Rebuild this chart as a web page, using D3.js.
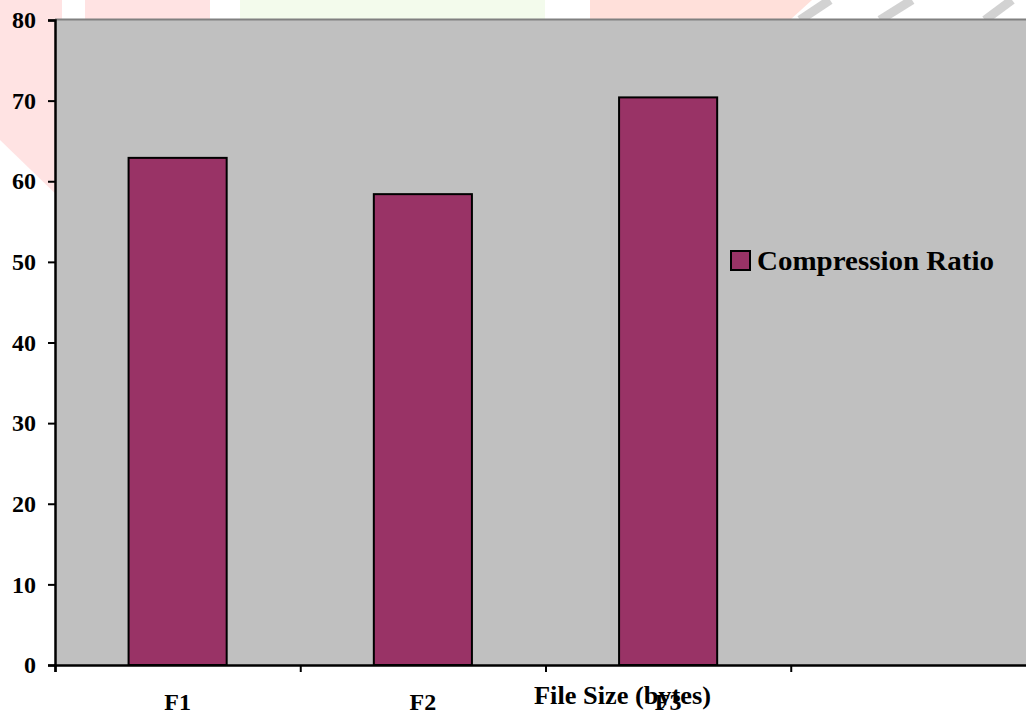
<html>
  <head>
    <title>Compression Ratio</title>
    <script src="https://d3js.org/d3.v7.min.js"></script>
    <style>
      body { margin: 0; background: #fff; }
      .chart text { font-family: "Liberation Serif", "Times New Roman", serif; font-weight: bold; fill: #000; }
    </style>
  </head>
  <body>
    <div class="chart"></div>

  <script>
  // data
  var categories = ["F1", "F2", "F3", ""];
  var ratios = [62.9, 58.4, 70.4];
  var yTicks = [0, 10, 20, 30, 40, 50, 60, 70, 80];
  var seriesName = "Compression Ratio";
  var xTitle = "File Size (bytes)";

  var width = 1026,
      height = 715;

  // plot box (the right edge runs past the window)
  var plotLeft = 55, plotTop = 20, plotBottom = 665, plotRight = 1036;

  var svg = d3.select(".chart")
    .append("svg")
    .attr("width", width)
    .attr("height", height);

  // faint watermark behind the chart
  var wm = svg.append("g");
  wm.append("path").attr("d", "M0,0 L62,0 L62,200 L0,140 Z").attr("fill", "#ffe3e3");
  wm.append("rect").attr("x", 85).attr("y", 0).attr("width", 125).attr("height", 20).attr("fill", "#ffe3e3");
  wm.append("rect").attr("x", 240).attr("y", 0).attr("width", 305).attr("height", 20).attr("fill", "#f3fbec");
  wm.append("path").attr("d", "M590,0 L812,0 L790,20 L590,20 Z").attr("fill", "#ffe0da");
  [[800, 830], [880, 912], [985, 1012]].forEach(function (p) {
    wm.append("line").attr("x1", p[0]).attr("y1", 20).attr("x2", p[1]).attr("y2", 0)
      .attr("stroke", "#d2d2d2").attr("stroke-width", 9);
  });

  var y = d3.scaleLinear()
    .domain([0, 80])
    .range([plotBottom, plotTop]);

  var x = d3.scaleBand()
    .domain(categories)
    .range([plotLeft, plotRight])
    .paddingInner(0.6)
    .paddingOuter(0.3);

  var xEdges = d3.scaleLinear()
    .domain([0, categories.length])
    .range([plotLeft, plotRight]);

  // plot area
  svg.append("rect")
    .attr("x", plotLeft)
    .attr("y", plotTop)
    .attr("width", plotRight - plotLeft)
    .attr("height", plotBottom - plotTop)
    .attr("fill", "#c0c0c0");

  svg.append("line")
    .attr("x1", plotLeft).attr("x2", width)
    .attr("y1", plotTop - 0.5).attr("y2", plotTop - 0.5)
    .attr("stroke", "#808080")
    .attr("stroke-width", 2);

  // bars
  svg.selectAll(".bar")
    .data(ratios)
    .enter()
    .append("rect")
    .attr("class", "bar")
    .attr("x", function (d, i) { return x(categories[i]); })
    .attr("y", function (d) { return y(d); })
    .attr("width", x.bandwidth())
    .attr("height", function (d) { return y(0) - y(d); })
    .attr("fill", "#993366")
    .attr("stroke", "#000")
    .attr("stroke-width", 2);

  // y axis
  var yAxis = svg.append("g")
    .attr("transform", "translate(" + plotLeft + ",0)")
    .call(d3.axisLeft(y).tickValues(yTicks).tickSize(7).tickPadding(12));
  yAxis.select(".domain").attr("stroke", "#000").attr("stroke-width", 2.5);
  yAxis.selectAll(".tick line").attr("stroke", "#000").attr("stroke-width", 2);
  yAxis.selectAll("text").attr("font-size", 24);

  // x axis, ticks on category edges
  var xAxis = svg.append("g")
    .attr("transform", "translate(0," + plotBottom + ")")
    .call(d3.axisBottom(xEdges).tickValues(d3.range(categories.length + 1)).tickSize(7).tickFormat(""));
  xAxis.select(".domain").attr("stroke", "#000").attr("stroke-width", 2.5);
  xAxis.selectAll(".tick line").attr("stroke", "#000").attr("stroke-width", 2);

  svg.selectAll(".cat")
    .data(categories)
    .enter()
    .append("text")
    .attr("class", "cat")
    .attr("x", function (d) { return x(d) + x.bandwidth() / 2; })
    .attr("y", 710)
    .attr("text-anchor", "middle")
    .attr("font-size", 24)
    .text(function (d) { return d; });

  svg.append("text")
    .attr("x", 534)
    .attr("y", 704)
    .attr("font-size", 25)
    .attr("textLength", 177)
    .attr("lengthAdjust", "spacingAndGlyphs")
    .text(xTitle);

  // legend
  svg.append("rect")
    .attr("x", 731).attr("y", 251)
    .attr("width", 19).attr("height", 19)
    .attr("fill", "#993366")
    .attr("stroke", "#000")
    .attr("stroke-width", 2);

  svg.append("text")
    .attr("x", 757)
    .attr("y", 270)
    .attr("font-size", 28)
    .attr("textLength", 237)
    .attr("lengthAdjust", "spacingAndGlyphs")
    .text(seriesName);
  </script>
  </body>
</html>
